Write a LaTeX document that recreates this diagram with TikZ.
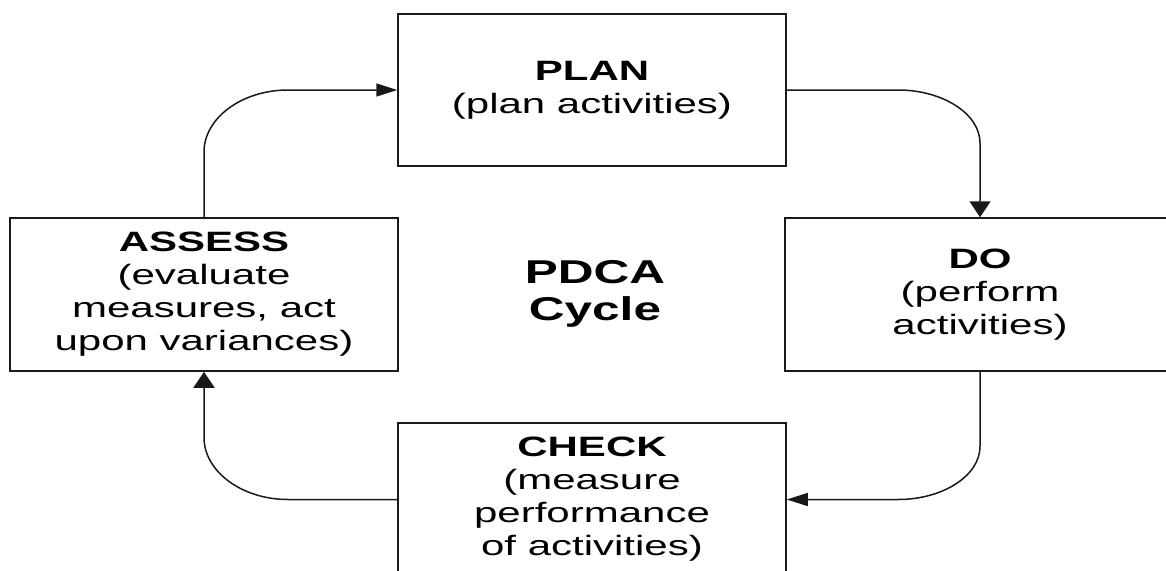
\documentclass[tikz,border=0pt]{standalone}
\usepackage{fontspec}
\setmainfont{Liberation Sans}[FakeStretch=1.5]
\usetikzlibrary{arrows.meta,calc}

\tikzset{
  stagebox/.style={draw=black!90, line width=1.5pt, fill=white, rectangle,
    minimum width=388pt, minimum height=153pt, inner sep=0pt, align=center,
    font=\fontsize{28}{33}\selectfont},
  link/.style={draw=black!90, line width=1.5pt},
  tiph/.style={-{Triangle[length=21pt,width=13pt]}},
  tipv/.style={-{Triangle[length=16pt,width=21pt]}},
  title/.style={align=center, font=\fontsize{33}{37}\selectfont\bfseries}
}

\begin{document}
\begin{tikzpicture}[x=1pt, y=-1pt]
  \useasboundingbox (0,0) rectangle (1166,570);
  \fill[white] (0,0) rectangle (1166,570);
  \clip (0,0) rectangle (1166,570);

  % the four stages of the cycle
  \node[stagebox, minimum height=152pt] (plan) at (592,90)
    {\textbf{PLAN}\\(plan activities)};
  \node[stagebox] (assess) at (204,294.5)
    {\textbf{ASSESS}\\(evaluate\\measures, act\\upon variances)};
  \node[stagebox, minimum width=390pt] (do) at (980,294.5)
    {\textbf{DO}\\(perform\\activities)};
  \node[stagebox] (check) at (592,499.5)
    {\textbf{CHECK}\\(measure\\performance\\of activities)};

  % centre caption
  \node[title] (cycle) at (595,294) {PDCA\\Cycle};

  % corner points of the connectors
  \coordinate (c1) at (assess.north |- plan.west);
  \coordinate (c2) at (do.north |- plan.east);
  \coordinate (c3) at (do.south |- check.east);
  \coordinate (c4) at (assess.south |- check.west);

  % ASSESS -> PLAN
  \draw[link, tiph] (assess.north) -- ($(c1)+(0,62)$)
    .. controls ($(c1)+(0,28)$) and ($(c1)+(38,0)$) .. ($(c1)+(84,0)$)
    -- (plan.west);
  % PLAN -> DO
  \draw[link, tipv] (plan.east) -- ($(c2)+(-82,0)$)
    .. controls ($(c2)+(-37,0)$) and ($(c2)+(0,24)$) .. ($(c2)+(0,53)$)
    -- (do.north);
  % DO -> CHECK
  \draw[link, tiph] (do.south) -- ($(c3)+(0,-53)$)
    .. controls ($(c3)+(0,-24)$) and ($(c3)+(-37,0)$) .. ($(c3)+(-82,0)$)
    -- (check.east);
  % CHECK -> ASSESS
  \draw[link, tipv] (check.west) -- ($(c4)+(84,0)$)
    .. controls ($(c4)+(38,0)$) and ($(c4)+(0,-28)$) .. ($(c4)+(0,-62)$)
    -- (assess.south);
\end{tikzpicture}
\end{document}
